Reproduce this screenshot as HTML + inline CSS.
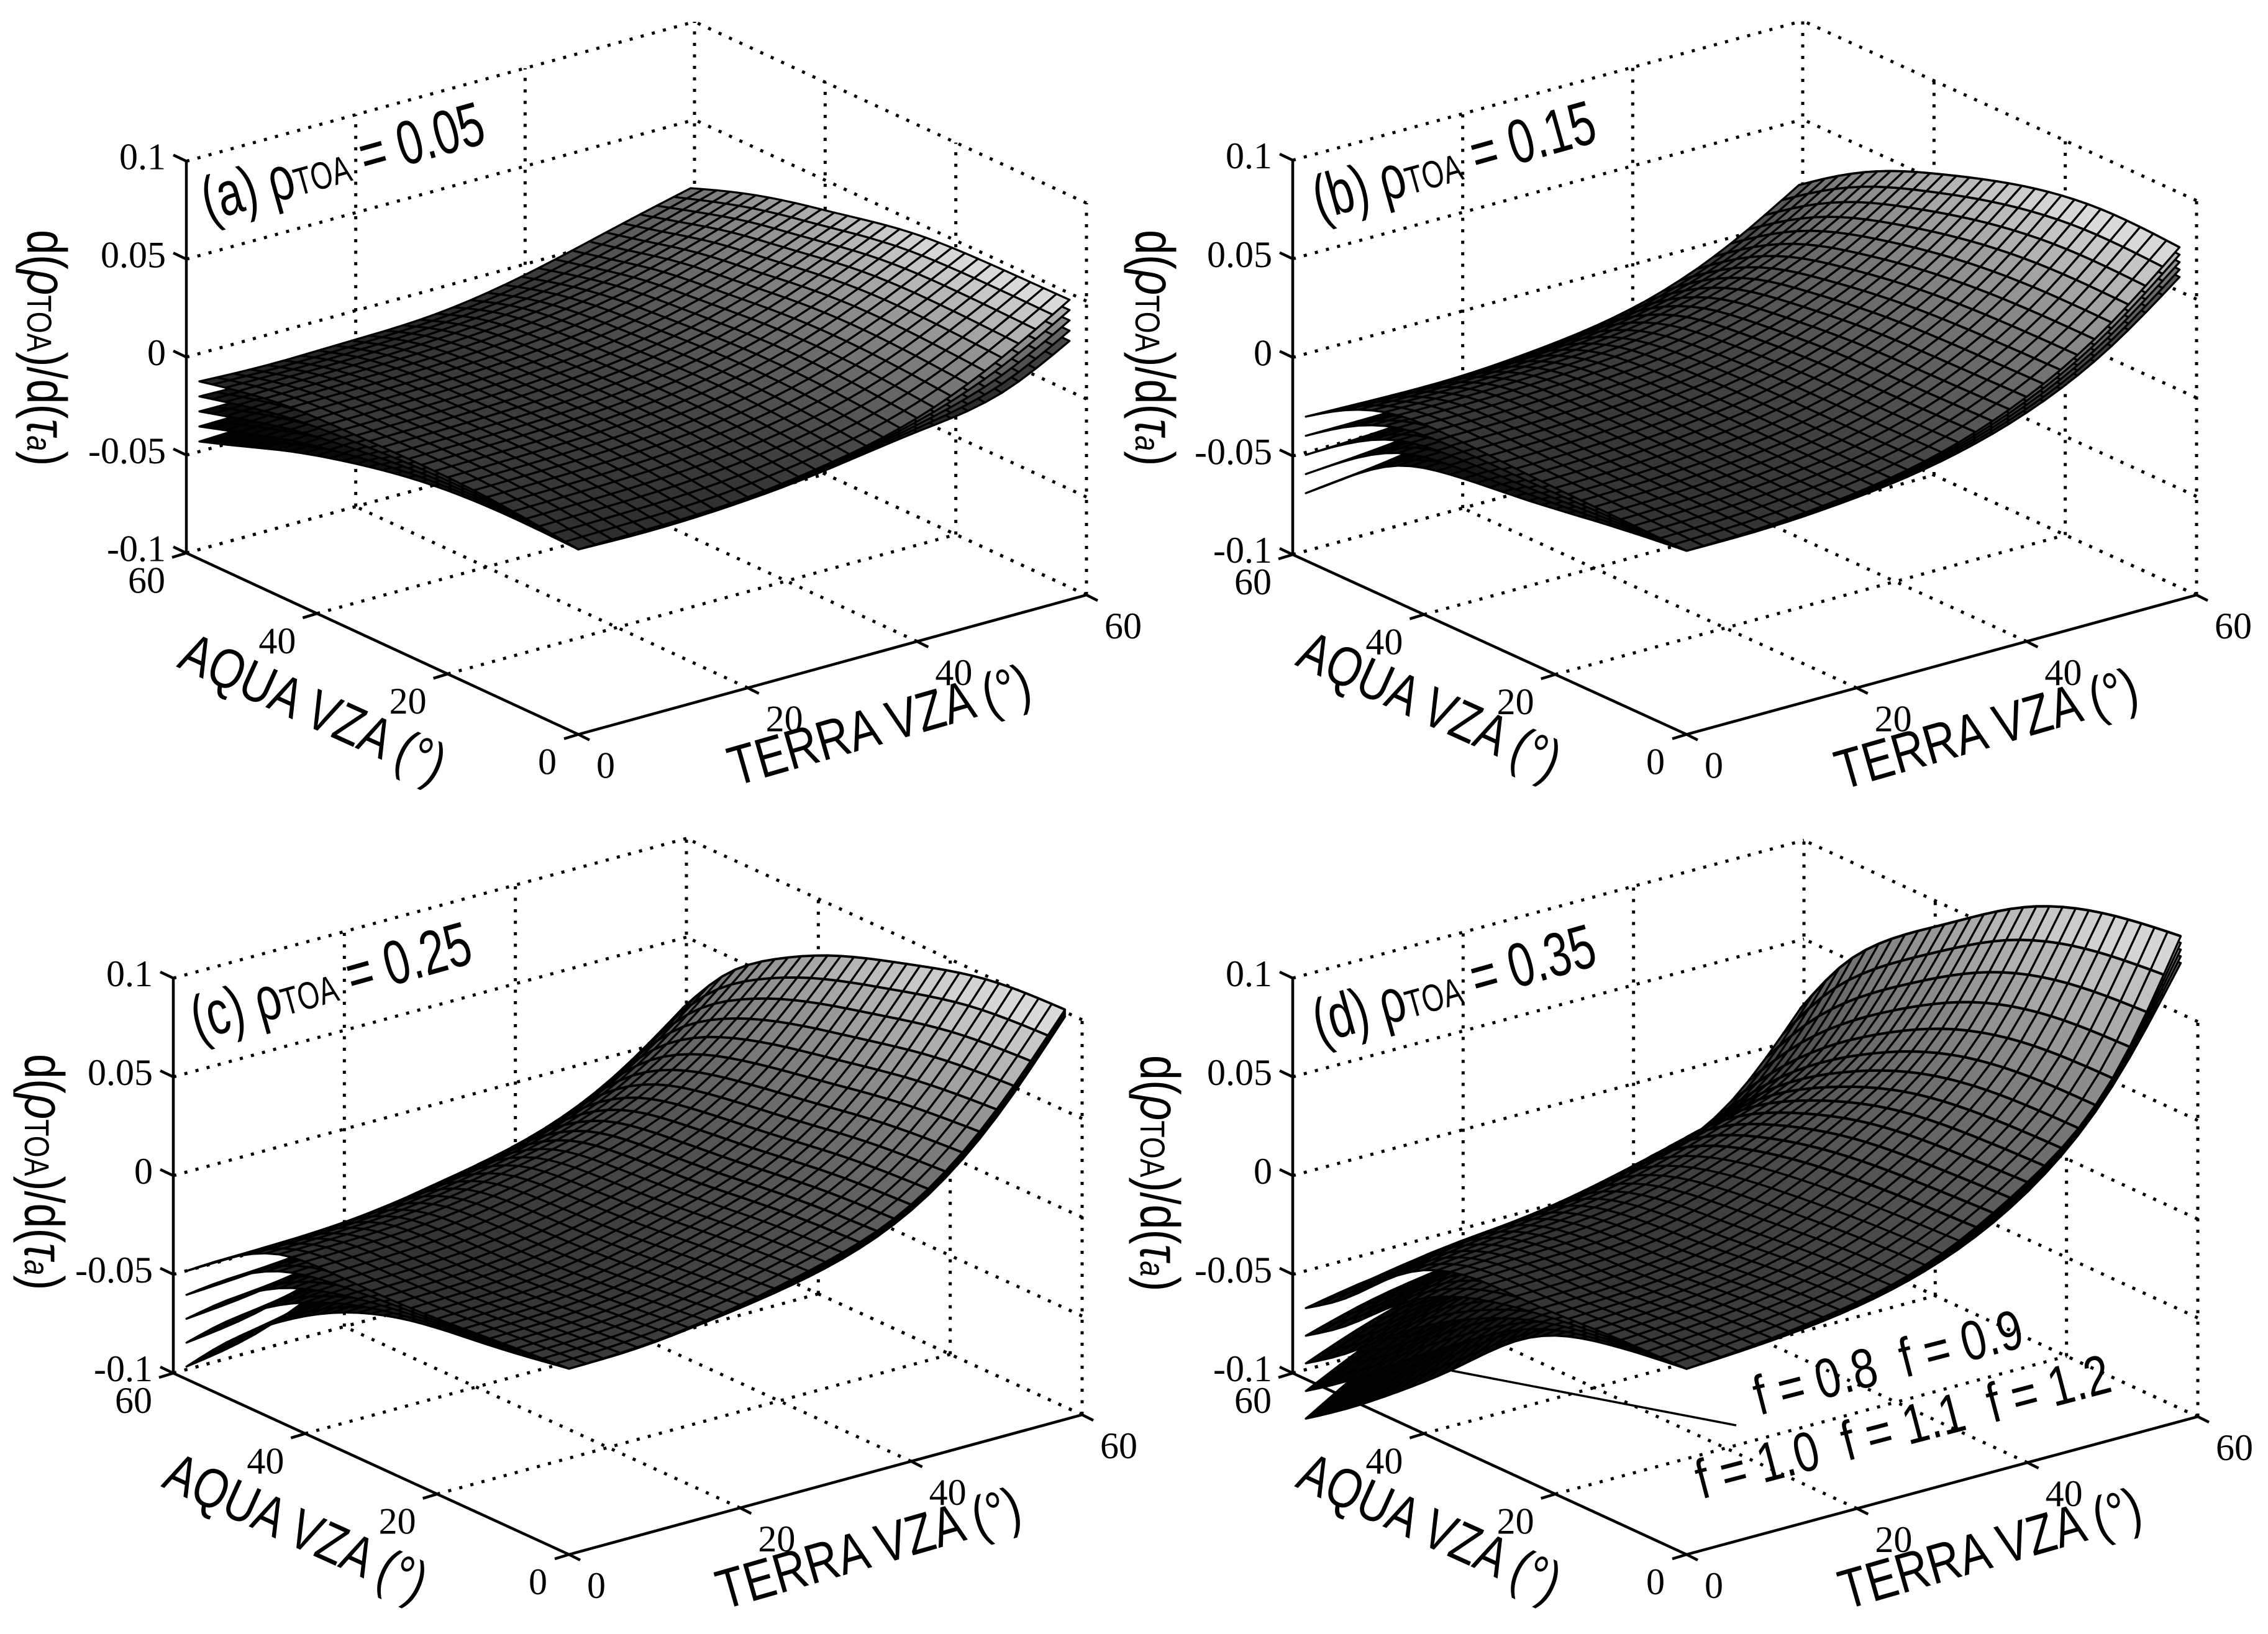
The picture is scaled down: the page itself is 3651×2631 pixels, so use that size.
<!DOCTYPE html>
<html lang="en">
<head>
<meta charset="utf-8">
<title>Sensitivity of TOA reflectance to aerosol optical depth</title>
<style>
html,body{margin:0;padding:0;background:#fff;width:3651px;height:2631px;overflow:hidden}
svg{display:block}
.sans{font-family:"Liberation Sans",sans-serif;font-size:90px;fill:#000}
.title{font-family:"Liberation Sans",sans-serif;font-size:100px;fill:#000}
.tick{font-family:"Liberation Serif",serif;font-size:60px;fill:#000}
</style>
</head>
<body>
<svg id="figure" xmlns="http://www.w3.org/2000/svg" width="3651" height="2631" viewBox="0 0 3651 2631">
<rect width="3651" height="2631" fill="#fff"/>
<g id="plots"></g>

<g>
<text class="title" transform="translate(335,356) rotate(-15.7) scale(.73,1)">(a) ρ<tspan font-size="62">TOA</tspan> = 0.05</text>
<text class="sans" transform="translate(44,370) rotate(90) scale(.8,1)">d(<tspan font-style="italic">ρ</tspan><tspan font-size="56">TOA</tspan>)/d(<tspan font-style="italic">τ</tspan><tspan font-size="56" font-style="italic">a</tspan>)</text>
<text class="sans" transform="translate(1183,1266) rotate(-16) scale(.815,1)">TERRA VZA (°)</text>
<text class="sans" transform="translate(283,1073) rotate(24.4) scale(.81,1)">AQUA VZA (°)</text>
</g>
<g>
<text class="title" transform="translate(2124,354) rotate(-15.7) scale(.73,1)">(b) ρ<tspan font-size="62">TOA</tspan> = 0.15</text>
<text class="sans" transform="translate(1828,370) rotate(90) scale(.8,1)">d(<tspan font-style="italic">ρ</tspan><tspan font-size="56">TOA</tspan>)/d(<tspan font-style="italic">τ</tspan><tspan font-size="56" font-style="italic">a</tspan>)</text>
<text class="sans" transform="translate(2965,1272) rotate(-16) scale(.815,1)">TERRA VZA (°)</text>
<text class="sans" transform="translate(2083,1070) rotate(24.4) scale(.8,1)">AQUA VZA (°)</text>
</g>
<g>
<text class="title" transform="translate(318,1675) rotate(-15.7) scale(.73,1)">(c) ρ<tspan font-size="62">TOA</tspan> = 0.25</text>
<text class="sans" transform="translate(40,1697) rotate(90) scale(.8,1)">d(<tspan font-style="italic">ρ</tspan><tspan font-size="56">TOA</tspan>)/d(<tspan font-style="italic">τ</tspan><tspan font-size="56" font-style="italic">a</tspan>)</text>
<text class="sans" transform="translate(1164,2592) rotate(-16) scale(.82,1)">TERRA VZA (°)</text>
<text class="sans" transform="translate(258,2393) rotate(24.4) scale(.8,1)">AQUA VZA (°)</text>
</g>
<g>
<text class="title" transform="translate(2124,1680) rotate(-15.7) scale(.73,1)">(d) ρ<tspan font-size="62">TOA</tspan> = 0.35</text>
<text class="sans" transform="translate(1836,1699) rotate(90) scale(.8,1)">d(<tspan font-style="italic">ρ</tspan><tspan font-size="56">TOA</tspan>)/d(<tspan font-style="italic">τ</tspan><tspan font-size="56" font-style="italic">a</tspan>)</text>
<text class="sans" transform="translate(2971,2592) rotate(-16) scale(.815,1)">TERRA VZA (°)</text>
<text class="sans" transform="translate(2083,2393) rotate(24.4) scale(.8,1)">AQUA VZA (°)</text>
<text class="sans" xml:space="preserve" transform="translate(2832,2279) rotate(-14.5) scale(.8,1)">f = 0.8  f = 0.9</text>
<text class="sans" xml:space="preserve" transform="translate(2739,2414) rotate(-14.7) scale(.8,1)">f = 1.0  f = 1.1  f = 1.2</text>
<line x1="2337" y1="2207" x2="2795" y2="2295" stroke="#000" stroke-width="3.5"/>
</g>
</svg>

<script>
// ---- shared axis values ----
const tNodes = [0, 8, 16, 28, 40, 50, 58];
const aNodes = [0, 12, 24, 36, 44, 52, 58];
const zTicks = [-0.1, -0.05, 0, 0.05, 0.1];
const zTickLabels = ['-0.1', '-0.05', '0', '0.05', '0.1'];
const vzaTicks = [0, 20, 40, 60];
const vzaTickLabels = ['0', '20', '40', '60'];
const fValues = [1.2, 1.1, 1.0, 0.9, 0.8];
const layerMix = [0, 0.25, 0.5, 0.75, 1];

// ---- surface values (row = AQUA node, column = TERRA node) ----
const panelAUpper = [
 [-.0056,-.005,-.004,.002,.014,.033,.053],
 [-.001,-.0005,.0006,.0054,.0172,.0348,.0525],
 [.0005,.001,.002,.0064,.0173,.0337,.05],
 [0,.0004,.0013,.005,.0143,.0281,.042],
 [-.001,-.0006,.0001,.0034,.0116,.0238,.036],
 [-.005,-.0047,-.004,-.001,.0062,.0171,.028],
 [-.0093,-.0105,-.01,-.008,.001,.012,.0205]];
const panelALower = [
 [-.0056,-.0062,-.0052,-.0005,.007,.015,.032],
 [-.005,-.0045,-.0034,.0004,.0082,.0198,.0325],
 [-.008,-.007,-.0055,-.0006,.0083,.0207,.031],
 [-.016,-.0146,-.0127,-.006,.0043,.0151,.025],
 [-.0235,-.0216,-.0189,-.0116,-.0004,.0108,.021],
 [-.033,-.0307,-.028,-.02,-.0078,.0041,.015],
 [-.04,-.0385,-.036,-.029,-.014,-.001,.0085]];
const panelBUpper = [
 [-.0069,-.0058,-.003,.0055,.024,.05,.0787],
 [-.006,-.0051,-.0026,.0052,.0232,.0498,.0798],
 [-.005,-.0042,-.0019,.0052,.0217,.046,.0734],
 [-.0035,-.0032,-.0016,.0036,.0171,.0377,.0609],
 [-.005,-.005,-.0039,0,.0117,.0294,.0505],
 [-.0146,-.0151,-.0146,-.0111,-.001,.0157,.0359],
 [-.027,-.0279,-.0282,-.0247,-.0154,.0019,.0221]];
const panelBLower = [
 [-.0069,-.0068,-.005,.0015,.016,.038,.0636],
 [-.012,-.0111,-.0086,-.0008,.0152,.0378,.0648],
 [-.018,-.0162,-.0129,-.0038,.0127,.034,.0584],
 [-.023,-.0212,-.0176,-.0084,.0071,.0257,.0459],
 [-.0306,-.028,-.0239,-.015,.0007,.0174,.0355],
 [-.049,-.0451,-.0396,-.0291,-.013,.0037,.0209],
 [-.0658,-.0619,-.0562,-.0447,-.0284,-.0101,.0071]];
const panelCUpper = [
 [-.0059,-.0045,-.0003,.0105,.03,.0664,.1075],
 [-.009,-.0079,-.0045,.0075,.0273,.0625,.1045],
 [-.012,-.0109,-.0078,.0034,.0219,.0547,.0939],
 [-.0125,-.0116,-.0088,.0009,.017,.0456,.0798],
 [-.0154,-.0146,-.0122,-.0036,.0106,.0357,.0657],
 [-.0298,-.0291,-.0268,-.019,-.006,.0171,.0447],
 [-.0452,-.0447,-.0444,-.0364,-.025,-.0056,.0194]];
const panelCLower = [
 [-.0059,-.005,-.0012,.0075,.027,.0625,.104],
 [-.0125,-.0114,-.008,.0035,.0213,.0545,.1005],
 [-.0184,-.0174,-.0143,-.0016,.0159,.0467,.0899],
 [-.0328,-.0296,-.0228,-.0061,.011,.0376,.0758],
 [-.0497,-.0426,-.0322,-.0126,.0046,.0277,.0617],
 [-.0723,-.0651,-.0518,-.03,-.012,.0091,.0407],
 [-.0936,-.0867,-.0724,-.0484,-.031,-.0136,.0154]];
const panelDUpper = [
 [-.006,-.003,.0015,.014,.042,.083,.1456],
 [-.007,-.005,-.001,.012,.04,.081,.139],
 [-.009,-.008,-.005,.008,.035,.071,.1235],
 [-.012,-.01,-.008,.002,.022,.05,.0965],
 [-.026,-.02,-.016,-.008,.008,.031,.077],
 [-.05,-.04,-.036,-.028,-.015,.006,.05],
 [-.064,-.058,-.055,-.048,-.038,-.017,.02]];
const panelDLower = [
 [-.006,-.004,-.0005,.011,.037,.079,.132],
 [-.012,-.01,-.005,.008,.035,.076,.126],
 [-.027,-.02,-.012,.003,.03,.066,.11],
 [-.062,-.043,-.027,-.008,.012,.036,.083],
 [-.085,-.067,-.053,-.03,-.008,.016,.063],
 [-.106,-.09,-.075,-.052,-.032,-.012,.036],
 [-.12,-.1,-.085,-.068,-.05,-.03,.006]];

const panelSettings = [
 {id:'a', upper:panelAUpper, lower:panelALower, F:[931,1182.5], R:[1749,958], L:[300,890.5], h:631, rowWidth:0},
 {id:'b', upper:panelBUpper, lower:panelBLower, F:[2715,1182.5], R:[3536,958], L:[2081,893], h:635, rowWidth:3.6},
 {id:'c', upper:panelCUpper, lower:panelCLower, F:[916,2503], R:[1742,2278], L:[279,2211], h:636, rowWidth:3.9},
 {id:'d', upper:panelDUpper, lower:panelDLower, F:[2715,2503], R:[3538,2281], L:[2081,2211], h:636, rowWidth:4.2}
];

const SVGNS = 'http://www.w3.org/2000/svg';
const plots = document.getElementById('plots');

// natural cubic spline through the nodes
function splineCoeffs(xs, ys) {
  const n = xs.length, d2 = new Array(n).fill(0), u = new Array(n).fill(0);
  for (let i = 1; i < n - 1; i++) {
    const sig = (xs[i] - xs[i-1]) / (xs[i+1] - xs[i-1]);
    const p = sig * d2[i-1] + 2;
    d2[i] = (sig - 1) / p;
    const dd = (ys[i+1]-ys[i])/(xs[i+1]-xs[i]) - (ys[i]-ys[i-1])/(xs[i]-xs[i-1]);
    u[i] = (6*dd/(xs[i+1]-xs[i-1]) - sig*u[i-1]) / p;
  }
  for (let k = n - 2; k >= 0; k--) d2[k] = d2[k]*d2[k+1] + u[k];
  return d2;
}
function splineAt(xs, ys, d2, x) {
  let k = 0;
  while (k < xs.length - 2 && x > xs[k+1]) k++;
  const h = xs[k+1]-xs[k], A = (xs[k+1]-x)/h, B = (x-xs[k])/h;
  return A*ys[k] + B*ys[k+1] + ((A*A*A-A)*d2[k] + (B*B*B-B)*d2[k+1])*h*h/6;
}
function meshFromTable(table, meshT, meshA) {
  const rows = table.map(r => { const c = splineCoeffs(tNodes, r); return meshT.map(t => splineAt(tNodes, r, c, t)); });
  return meshA.map(a => meshT.map((_, j) => {
    const col = rows.map(r => r[j]);
    return splineAt(aNodes, col, splineCoeffs(aNodes, col), a);
  }));
}

function drawPanel(p) {
  const group = document.createElementNS(SVGNS, 'g');
  
  
  plots.appendChild(group);

  const xOf = (t, a) => p.F[0] + (p.R[0]-p.F[0])*t/60 + (p.L[0]-p.F[0])*a/60;
  const yOf = (t, a, z) => p.F[1] + (p.R[1]-p.F[1])*t/60 + (p.L[1]-p.F[1])*a/60 - (z+0.1)*p.h/0.2;

  function segment(parent, name, x1, y1, x2, y2, dotted) {
    const ln = document.createElementNS(SVGNS, 'line');
    
    
    ln.setAttribute('x1', x1); ln.setAttribute('y1', y1);
    ln.setAttribute('x2', x2); ln.setAttribute('y2', y2);
    ln.setAttribute('stroke', '#000');
    ln.setAttribute('stroke-width', dotted ? 5 : 4.5);
    if (dotted) ln.setAttribute('stroke-dasharray', '5 13.5');
    parent.appendChild(ln);
  }
  function label(parent, name, str, x, y, anchor) {
    const tx = document.createElementNS(SVGNS, 'text');
    
    
    tx.setAttribute('class', 'tick');
    tx.setAttribute('x', x); tx.setAttribute('y', y);
    tx.setAttribute('text-anchor', anchor);
    tx.textContent = str;
    parent.appendChild(tx);
  }

  // dotted box: floor and the two back walls
  const grid = document.createElementNS(SVGNS, 'g');
  
  
  group.appendChild(grid);
  const zBottom = zTicks[0], zTop = zTicks[zTicks.length-1];
  vzaTicks.slice(1).forEach(v => {
    segment(grid, 'floor-gridline-aqua', xOf(0,v), yOf(0,v,zBottom), xOf(60,v), yOf(60,v,zBottom), true);
    segment(grid, 'floor-gridline-terra', xOf(v,0), yOf(v,0,zBottom), xOf(v,60), yOf(v,60,zBottom), true);
    segment(grid, 'back-wall-vertical-gridline', xOf(v,60), yOf(v,60,zBottom), xOf(v,60), yOf(v,60,zTop), true);
  });
  vzaTicks.slice(0,3).forEach(v => {
    segment(grid, 'right-wall-vertical-gridline', xOf(60,v), yOf(60,v,zBottom), xOf(60,v), yOf(60,v,zTop), true);
  });
  zTicks.forEach(z => {
    segment(grid, 'back-wall-horizontal-gridline', xOf(0,60), yOf(0,60,z), xOf(60,60), yOf(60,60,z), true);
    segment(grid, 'right-wall-horizontal-gridline', xOf(60,0), yOf(60,0,z), xOf(60,60), yOf(60,60,z), true);
  });

  // solid axes, ticks and tick labels
  const axes = document.createElementNS(SVGNS, 'g');
  
  
  group.appendChild(axes);
  segment(axes, 'aqua-axis-line', p.L[0], p.L[1], p.F[0], p.F[1], false);
  segment(axes, 'terra-axis-line', p.F[0], p.F[1], p.R[0], p.R[1], false);
  segment(axes, 'z-axis-line', xOf(0,60), yOf(0,60,zBottom), xOf(0,60), yOf(0,60,zTop), false);
  zTicks.forEach((z, i) => {
    const x = xOf(0,60), y = yOf(0,60,z);
    segment(axes, 'z-axis-tick', x, y, x-21, y-10, false);
    label(axes, 'z-tick-label', zTickLabels[i], x-33, y+13, 'end');
  });
  vzaTicks.forEach((v, i) => {
    const ax = xOf(0,v), ay = yOf(0,v,zBottom);
    segment(axes, 'aqua-axis-tick', ax, ay, ax-23, ay+7, false);
    label(axes, 'aqua-tick-label', vzaTickLabels[i], ax-(v ? 64 : 50), ay+64, 'middle');
    const tx = xOf(v,0), ty = yOf(v,0,zBottom);
    segment(axes, 'terra-axis-tick', tx, ty, tx+18, ty+9, false);
    label(axes, 'terra-tick-label', vzaTickLabels[i], tx+(v ? 59 : 44), ty+70, 'middle');
  });

  // stacked surfaces, lowest first, each painted far to near
  const meshT = [], meshA = [];
  for (let i = 0; i < 30; i++) { meshT.push(i*2); meshA.push(i*2); }
  const upperMesh = meshFromTable(p.upper, meshT, meshA);
  const lowerMesh = meshFromTable(p.lower, meshT, meshA);
  let zMin = Infinity, zMax = -Infinity;
  upperMesh.forEach(r => r.forEach(v => { if (v > zMax) zMax = v; if (v < zMin) zMin = v; }));
  lowerMesh.forEach(r => r.forEach(v => { if (v > zMax) zMax = v; if (v < zMin) zMin = v; }));

  layerMix.forEach((w, li) => {
    const lg = document.createElementNS(SVGNS, 'g');
    
    
    lg.setAttribute('stroke', '#000');
    lg.setAttribute('stroke-width', '3.3');
    lg.setAttribute('stroke-linejoin', 'round');
    group.appendChild(lg);
    const zAt = (j, i) => lowerMesh[j][i] + (upperMesh[j][i]-lowerMesh[j][i])*w;
    for (let j = meshA.length-2; j >= 0; j--) {
      for (let i = meshT.length-2; i >= 0; i--) {
        const corners = [[i,j],[i+1,j],[i+1,j+1],[i,j+1]];
        let mean = 0, d = '';
        corners.forEach((c, k) => {
          const z = zAt(c[1], c[0]);
          mean += z/4;
          d += (k ? 'L' : 'M') + xOf(meshT[c[0]], meshA[c[1]]).toFixed(1) + ' ' + yOf(meshT[c[0]], meshA[c[1]], z).toFixed(1);
        });
        const shade = 228*Math.pow(Math.max(0,(mean-zMin)/(zMax-zMin)),1.65)*(0.5+0.5*w);
        const g = Math.round(shade);
        const cell = document.createElementNS(SVGNS, 'path');
        
        
        cell.setAttribute('d', d + 'Z');
        cell.setAttribute('fill', 'rgb(' + g + ',' + g + ',' + g + ')');
        lg.appendChild(cell);
      }
    }
    if (w === 1 && p.rowWidth) {
      meshT.forEach((t, i) => {
        if (t < 34) return;
        let d = '';
        meshA.forEach((a, j) => {
          d += (j ? 'L' : 'M') + xOf(t, a).toFixed(1) + ' ' + yOf(t, a, zAt(j, i)).toFixed(1);
        });
        const row = document.createElementNS(SVGNS, 'path');
        
        
        row.setAttribute('d', d);
        row.setAttribute('fill', 'none');
        row.setAttribute('stroke-width', p.rowWidth);
        lg.appendChild(row);
      });
    }
  });
}
panelSettings.forEach(drawPanel);
</script>
</body>
</html>
